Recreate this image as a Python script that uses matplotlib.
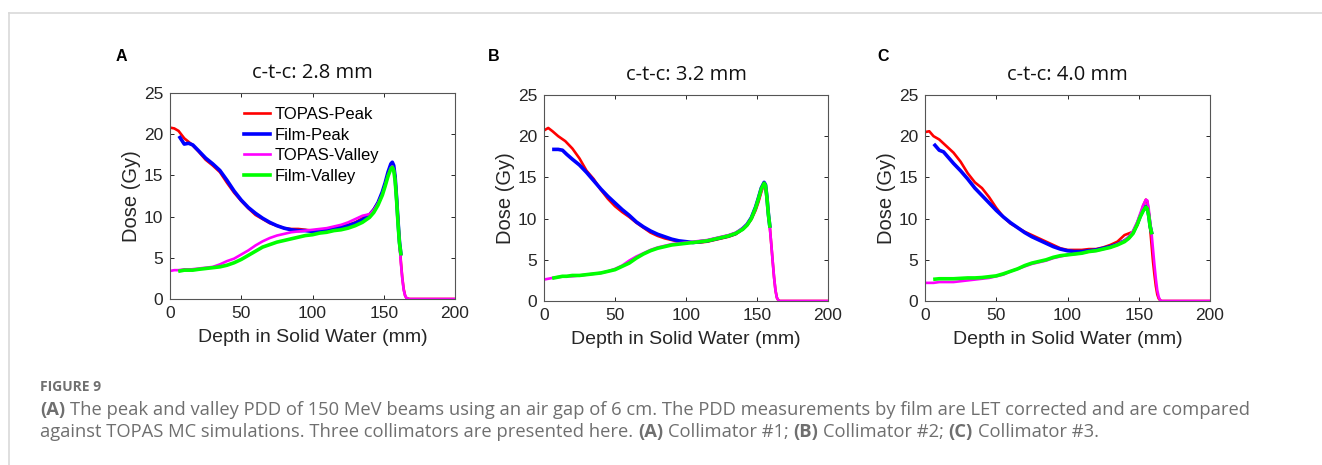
import matplotlib.pyplot as plt
from matplotlib.lines import Line2D
import numpy as np

# depth grids (mm)
topas_depth = [0, 3, 6, 10, 15, 20, 25, 30, 35, 40, 45, 50, 55, 60, 65, 70, 75, 80, 85, 90,
               95, 100, 105, 110, 115, 120, 125, 130, 135, 140, 143, 146, 149, 151, 153, 155,
               156, 157, 158, 159, 160, 161, 162, 163, 164, 165, 166, 168, 175, 200]
film_depth_a = [7, 10, 13, 16, 20, 25, 30, 35, 40, 45, 50, 55, 60, 65, 70, 75, 80, 85, 90,
                95, 100, 105, 110, 115, 120, 125, 130, 135, 140, 143, 146, 149, 151, 153, 155,
                156, 157, 158, 159, 160, 161, 162]
film_depth_bc = [7, 10, 13, 16, 20, 25, 30, 35, 40, 45, 50, 55, 60, 65, 70, 75, 80, 85, 90,
                 95, 100, 105, 110, 115, 120, 125, 130, 135, 140, 143, 146, 149, 151, 153, 155,
                 156, 157, 158, 159]

# panel A, c-t-c 2.8 mm (Gy)
a_topas_peak = [20.8, 20.7, 20.4, 19.5, 18.8, 17.9, 16.9, 16.2, 15.4, 14.1, 12.9, 11.9, 11.0, 10.2,
                9.7, 9.2, 8.9, 8.6, 8.5, 8.5, 8.4, 8.3, 8.4, 8.5, 8.7, 8.8, 9.0, 9.3, 9.8, 10.3,
                10.9, 11.7, 12.9, 14.0, 15.2, 16.2, 16.4, 16.0, 14.8, 12.5, 9.8, 7.0, 4.6, 2.6,
                1.2, 0.4, 0.1, 0.0, 0.0, 0.0]
a_film_peak = [19.6, 18.8, 18.9, 18.7, 18.0, 17.1, 16.4, 15.6, 14.4, 13.1, 12.0, 11.1, 10.4, 9.8,
               9.3, 8.9, 8.6, 8.4, 8.3, 8.3, 8.2, 8.3, 8.4, 8.6, 8.7, 8.9, 9.2, 9.6, 10.2, 10.8,
               11.7, 13.0, 14.1, 15.4, 16.4, 16.6, 16.2, 14.8, 12.3, 9.5, 7.0, 5.5]
a_topas_valley = [3.4, 3.5, 3.5, 3.6, 3.6, 3.7, 3.8, 3.9, 4.2, 4.6, 4.9, 5.4, 5.9, 6.5, 7.0, 7.4,
                  7.7, 7.9, 8.1, 8.2, 8.3, 8.4, 8.5, 8.6, 8.8, 9.0, 9.3, 9.7, 10.1, 10.3, 10.8,
                  11.6, 12.7, 13.8, 15.0, 15.9, 16.1, 15.7, 14.5, 12.2, 9.5, 6.8, 4.4, 2.5, 1.1,
                  0.4, 0.1, 0.0, 0.0, 0.0]
a_film_valley = [3.4, 3.5, 3.5, 3.5, 3.6, 3.7, 3.8, 3.9, 4.1, 4.4, 4.8, 5.3, 5.8, 6.3, 6.6, 6.9,
                 7.1, 7.3, 7.5, 7.7, 7.8, 8.0, 8.1, 8.3, 8.4, 8.6, 8.9, 9.3, 9.9, 10.5, 11.4, 12.6,
                 13.7, 14.9, 15.8, 16.0, 15.6, 14.3, 12.0, 9.2, 6.8, 5.5]

# panel B, c-t-c 3.2 mm (Gy)
b_topas_peak = [20.7, 21.0, 20.6, 20.0, 19.4, 18.5, 17.3, 15.8, 14.8, 13.5, 12.4, 11.5, 10.8, 10.2,
                9.5, 8.9, 8.3, 7.9, 7.6, 7.4, 7.2, 7.1, 7.1, 7.1, 7.2, 7.4, 7.6, 7.8, 8.1, 8.7,
                9.2, 9.9, 11.0, 12.0, 13.2, 14.2, 14.0, 12.5, 10.5, 9.0, 7.0, 4.9, 2.9, 1.3, 0.4,
                0.1, 0.0, 0.0, 0.0, 0.0]
b_film_peak = [18.4, 18.4, 18.3, 17.8, 17.2, 16.5, 15.6, 14.6, 13.6, 12.7, 11.9, 11.1, 10.4, 9.6,
               9.0, 8.5, 8.1, 7.8, 7.5, 7.3, 7.2, 7.1, 7.2, 7.3, 7.5, 7.7, 7.9, 8.2, 8.8, 9.3,
               10.1, 11.4, 12.5, 13.7, 14.4, 14.1, 12.6, 10.6, 9.1]
b_topas_valley = [2.6, 2.7, 2.8, 2.9, 3.0, 3.0, 3.1, 3.2, 3.3, 3.4, 3.6, 3.9, 4.3, 4.9, 5.4, 5.8,
                  6.2, 6.5, 6.7, 6.9, 7.0, 7.1, 7.2, 7.3, 7.4, 7.6, 7.8, 8.0, 8.3, 8.8, 9.3, 10.0,
                  11.2, 12.3, 13.4, 14.1, 13.9, 12.5, 10.6, 9.0, 7.0, 4.9, 2.9, 1.3, 0.4, 0.1,
                  0.0, 0.0, 0.0, 0.0]
b_film_valley = [2.8, 2.9, 3.0, 3.0, 3.1, 3.1, 3.2, 3.3, 3.4, 3.6, 3.8, 4.2, 4.6, 5.2, 5.7, 6.1,
                 6.4, 6.6, 6.8, 6.9, 7.0, 7.1, 7.2, 7.3, 7.5, 7.7, 7.9, 8.2, 8.7, 9.2, 10.0, 11.3,
                 12.4, 13.6, 14.3, 14.0, 12.5, 10.5, 9.1]

# panel C, c-t-c 4.0 mm (Gy)
c_topas_peak = [20.5, 20.6, 20.0, 19.6, 18.8, 18.0, 16.9, 15.5, 14.4, 13.7, 12.6, 11.3, 10.2, 9.4,
                8.9, 8.4, 8.0, 7.6, 7.2, 6.8, 6.4, 6.2, 6.2, 6.2, 6.3, 6.3, 6.5, 6.8, 7.2, 8.0,
                8.2, 8.4, 9.2, 10.3, 11.5, 12.3, 12.1, 10.8, 8.8, 6.8, 4.8, 3.2, 1.8, 0.8, 0.3,
                0.1, 0.0, 0.0, 0.0, 0.0]
c_film_peak = [18.9, 18.3, 18.1, 17.5, 16.7, 15.8, 14.8, 13.7, 12.8, 11.9, 11.0, 10.2, 9.5, 8.9,
               8.3, 7.8, 7.4, 7.0, 6.6, 6.3, 6.1, 6.0, 6.0, 6.1, 6.2, 6.4, 6.6, 6.9, 7.3, 7.7,
               8.3, 9.4, 10.3, 11.0, 11.5, 11.3, 10.4, 9.1, 8.3]
c_topas_valley = [2.2, 2.2, 2.2, 2.3, 2.3, 2.3, 2.4, 2.5, 2.6, 2.7, 2.8, 3.0, 3.2, 3.6, 3.9, 4.2,
                  4.5, 4.7, 4.9, 5.2, 5.4, 5.6, 5.7, 5.8, 6.0, 6.1, 6.3, 6.5, 6.9, 7.3, 7.8, 8.5,
                  9.6, 10.6, 11.6, 12.3, 12.2, 11.2, 9.5, 8.2, 6.3, 4.4, 2.7, 1.3, 0.5, 0.1, 0.0,
                  0.0, 0.0, 0.0]
c_film_valley = [2.65, 2.7, 2.7, 2.7, 2.7, 2.75, 2.8, 2.8, 2.85, 2.95, 3.05, 3.3, 3.6, 3.9, 4.3,
                 4.6, 4.8, 5.0, 5.3, 5.5, 5.6, 5.7, 5.8, 6.0, 6.1, 6.3, 6.5, 6.8, 7.2, 7.6, 8.2,
                 9.3, 10.2, 10.9, 11.4, 11.2, 10.3, 9.0, 8.3]

titles = ['c-t-c: 2.8 mm', 'c-t-c: 3.2 mm', 'c-t-c: 4.0 mm']
letters = ['A', 'B', 'C']
series_names = ['TOPAS-Peak', 'Film-Peak', 'TOPAS-Valley', 'Film-Valley']

plt.rcParams['font.family'] = 'Liberation Sans'

W, H = 1322, 465
fig = plt.figure(figsize=(W / 100, H / 100), dpi=100)

# axes boxes in pixels: left, top, right, bottom
boxes = [(170, 93, 455, 299), (544, 95, 828, 301), (925, 95, 1210, 301)]
letter_x = [121, 494, 883]

panels = [
    (film_depth_a, a_topas_peak, a_film_peak, a_topas_valley, a_film_valley),
    (film_depth_bc, b_topas_peak, b_film_peak, b_topas_valley, b_film_valley),
    (film_depth_bc, c_topas_peak, c_film_peak, c_topas_valley, c_film_valley),
]

dark = '#262626'

for i, (l, t, r, b) in enumerate(boxes):
    ax = fig.add_axes([l / W, 1 - b / H, (r - l) / W, (b - t) / H])
    fd, tp, fp, tv, fv = panels[i]
    ax.plot(topas_depth, tp, color='#ff0000', lw=1.9, label=series_names[0])
    ax.plot(fd, fp, color='#0000ff', lw=2.6, label=series_names[1])
    ax.plot(topas_depth, tv, color='#ff00ff', lw=1.9, label=series_names[2])
    ax.plot(fd, fv, color='#00ff00', lw=2.6, label=series_names[3])

    ax.set_xlim(0, 200)
    ax.set_ylim(0, 25)
    ax.set_xticks([0, 50, 100, 150, 200])
    ax.set_yticks([0, 5, 10, 15, 20, 25])
    ax.tick_params(direction='in', length=3, width=0.7, top=True, right=True,
                   labelsize=12.5, colors=dark, pad=5)
    for sp in ax.spines.values():
        sp.set_color('#555555')
        sp.set_linewidth(0.8)
    ax.set_xlabel('Depth in Solid Water (mm)', fontsize=14, color=dark, labelpad=6)
    ax.set_ylabel('Dose (Gy)', fontsize=14.5, color=dark, labelpad=2)
    ax.text(0.5, 1 + 20 / (b - t), titles[i], transform=ax.transAxes, ha='center', va='center',
            family='Open Sans', fontsize=14.5, color='#111111')
    fig.text(letter_x[i] / W, 1 - 56 / H, letters[i], ha='center', va='center',
             fontweight='bold', fontsize=11.5, color='black')

    if i == 0:
        ax.legend(loc='upper left', bbox_to_anchor=(0.235, 0.965), frameon=False,
                  prop={'size': 12}, handlelength=1.6,
                  handletextpad=0.25, labelspacing=0.34, borderaxespad=0)

# frame lines of the page
fig.add_artist(Line2D([9 / W, 1], [1 - 13 / H, 1 - 13 / H], color='#d9d9d9', lw=1.2))
fig.add_artist(Line2D([9 / W, 9 / W], [0, 1 - 13 / H], color='#d9d9d9', lw=1.2))

# caption
cap_color = '#6f6f6f'
fig.text(40 / W, 1 - 391 / H, 'FIGURE 9', family='Open Sans', fontweight='bold',
         fontsize=10, color='#707070', va='baseline')

line1 = [('(A)', 'bold'),
         ('The peak and valley PDD of 150 MeV beams using an air gap of 6 cm. The PDD '
          'measurements by film are LET corrected and are compared', 'normal')]
line2 = [('against TOPAS MC simulations. Three collimators are presented here.', 'normal'),
         ('(A)', 'bold'), ('Collimator #1;', 'normal'), ('(B)', 'bold'),
         ('Collimator #2;', 'normal'), ('(C)', 'bold'), ('Collimator #3.', 'normal')]

renderer = fig.canvas.get_renderer()


def text_width(s, weight, size):
    t = fig.text(0, 0, s, family='Open Sans', fontweight=weight, fontsize=size)
    w = t.get_window_extent(renderer).width
    t.remove()
    return w


def space_width(size):
    return text_width('a a', 'normal', size) - text_width('aa', 'normal', size)


def line_width(runs, size):
    total = sum(text_width(s, wt, size) for s, wt in runs)
    return total + space_width(size) * (len(runs) - 1)


cap_size = 10 * 1212 / line_width(line1, 10)


def draw_line(runs, y_px, size):
    x = 40.0
    sp = space_width(size)
    for s, wt in runs:
        fig.text(x / W, 1 - y_px / H, s, family='Open Sans', fontweight=wt, fontsize=size,
                 color=cap_color, va='baseline')
        x += text_width(s, wt, size) + sp


draw_line(line1, 415, cap_size)
draw_line(line2, 437, cap_size)

fig.savefig('out.png', dpi=100)
